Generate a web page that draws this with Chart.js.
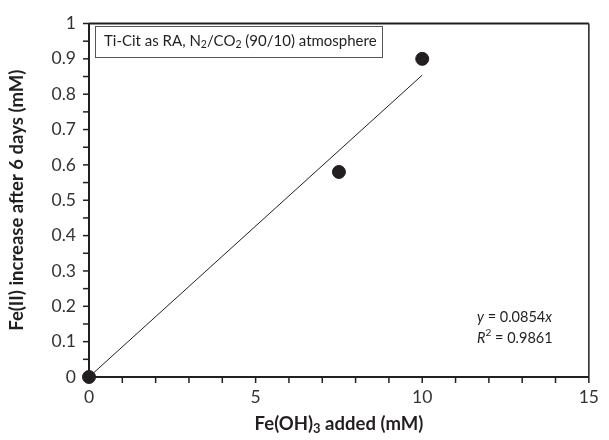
<!DOCTYPE html>
<html>
<head>
<meta charset="utf-8">
<script src="https://cdn.jsdelivr.net/npm/chart.js@4"></script>
<style>
  html, body { margin: 0; padding: 0; background: #fff; }
  #wrap { width: 609px; height: 440px; }
</style>
</head>
<body>
<div id="wrap"><canvas id="chart"></canvas></div>
<script>
// data
const feAdded = [0, 7.5, 10];        // Fe(OH)3 added (mM)
const feIncrease = [0, 0.58, 0.9];   // Fe(II) increase after 6 days (mM)
const trendSlope = 0.0854;
const trendX = [0, 10];
const xTicks = [0, 5, 10, 15];
const yTicks = [0, 0.1, 0.2, 0.3, 0.4, 0.5, 0.6, 0.7, 0.8, 0.9, 1];

const FONT = "Lato, 'Open Sans', sans-serif";
const INK = "#231f20";

// draws text pieces, some as subscript/superscript/italic
function drawRich(ctx, parts, x, y, size, bold) {
  let cx = x;
  parts.forEach(p => {
    const s = p.sub || p.sup ? size * 0.7 : size;
    ctx.font = (p.it ? "italic " : "") + (bold ? "bold " : "") + s + "px " + FONT;
    const dy = p.sub ? size * 0.25 : (p.sup ? -size * 0.38 : 0);
    ctx.fillText(p.t, cx, y + dy);
    cx += ctx.measureText(p.t).width;
  });
  return cx - x;
}
function richWidth(ctx, parts, size, bold) {
  let w = 0;
  parts.forEach(p => {
    const s = p.sub || p.sup ? size * 0.7 : size;
    ctx.font = (p.it ? "italic " : "") + (bold ? "bold " : "") + s + "px " + FONT;
    w += ctx.measureText(p.t).width;
  });
  return w;
}

const extras = {
  id: "extras",
  afterDraw(chart) {
    const ctx = chart.ctx;
    const xs = chart.scales.x, ys = chart.scales.y;
    const a = chart.chartArea;
    ctx.save();
    ctx.strokeStyle = INK;
    ctx.fillStyle = INK;

    // frame top + right
    ctx.lineWidth = 2;
    ctx.beginPath();
    ctx.moveTo(a.left, a.top); ctx.lineTo(a.right, a.top);
    ctx.stroke();
    ctx.lineWidth = 1.5;
    ctx.beginPath();
    ctx.moveTo(a.right, a.top); ctx.lineTo(a.right, a.bottom);
    ctx.stroke();

    // x tick marks (every 1)
    ctx.lineWidth = 1.5;
    for (let v = 0; v <= 15; v++) {
      const px = xs.getPixelForValue(v);
      ctx.beginPath();
      ctx.moveTo(px, a.bottom); ctx.lineTo(px, a.bottom + 6);
      ctx.stroke();
    }
    // y tick marks (every 0.05)
    for (let i = 0; i <= 20; i++) {
      const py = ys.getPixelForValue(i * 0.05);
      ctx.beginPath();
      ctx.moveTo(a.left, py); ctx.lineTo(a.left - 6, py);
      ctx.stroke();
    }

    // legend box
    ctx.lineWidth = 1;
    ctx.strokeStyle = "#555";
    ctx.fillStyle = "#fff";
    ctx.fillRect(95.5, 26.5, 287, 31);
    ctx.strokeRect(95.5, 26.5, 287, 31);
    ctx.fillStyle = INK;
    ctx.textBaseline = "middle";
    drawRich(ctx, [
      {t: "Ti-Cit as RA, N"}, {t: "2", sub: true}, {t: "/CO"}, {t: "2", sub: true},
      {t: " (90/10) atmosphere"}
    ], 104, 41, 15, false);

    // fit annotation
    drawRich(ctx, [{t: "y", it: true}, {t: " = 0.0854"}, {t: "x", it: true}], 477, 317, 14.5, false);
    drawRich(ctx, [{t: "R", it: true}, {t: "2", sup: true}, {t: " = 0.9861"}], 477, 338, 14.5, false);

    // x title with subscript
    const xt = [{t: "Fe(OH)"}, {t: "3", sub: true}, {t: " added (mM)"}];
    const w = richWidth(ctx, xt, 18.5, true);
    drawRich(ctx, xt, (a.left + a.right) / 2 - w / 2, 424, 18.5, true);
    ctx.restore();
  }
};

const ctx = document.getElementById("chart").getContext("2d");
const chart = new Chart(ctx, {
  type: "scatter",
  data: {
    datasets: [
      {
        label: "measured",
        data: feAdded.map((x, i) => ({x: x, y: feIncrease[i]})),
        backgroundColor: INK,
        borderColor: INK,
        pointRadius: 6.5,
        pointHoverRadius: 6.5,
        clip: false,
        order: 1,
      },
      {
        label: "fit",
        data: trendX.map(x => ({x: x, y: trendSlope * x})),
        showLine: true,
        borderColor: INK,
        borderWidth: 1,
        pointRadius: 0,
        order: 2,
      },
    ],
  },
  options: {
    responsive: true,
    maintainAspectRatio: false,
    animation: false,
    layout: { padding: { top: 21, right: 11, left: 6, bottom: 0 } },
    plugins: {
      legend: { display: false },
      tooltip: { enabled: false },
    },
    scales: {
      x: {
        type: "linear",
        min: 0, max: 15,
        afterBuildTicks: s => { s.ticks = xTicks.map(v => ({value: v})); },
        afterFit: s => { s.height = 63; },
        grid: { display: true, drawOnChartArea: false, drawTicks: false },
        border: { display: true, color: INK, width: 2 },
        ticks: { color: "#333", padding: 10, font: { family: FONT, size: 17.5 } },
      },
      y: {
        type: "linear",
        min: 0, max: 1,
        afterBuildTicks: s => { s.ticks = yTicks.map(v => ({value: v})); },
        afterFit: s => { s.width = 83; },
        grid: { display: true, drawOnChartArea: false, drawTicks: false },
        border: { display: true, color: INK, width: 2 },
        ticks: {
          color: "#333", padding: 13, font: { family: FONT, size: 17.5 },
          callback: v => String(v),
        },
        title: {
          display: true,
          text: "Fe(II) increase after 6 days (mM)",
          color: INK,
          padding: { top: 0, bottom: 2 },
          font: { family: FONT, size: 18.5, weight: "bold" },
        },
      },
    },
  },
  plugins: [extras],
});
</script>
</body>
</html>
